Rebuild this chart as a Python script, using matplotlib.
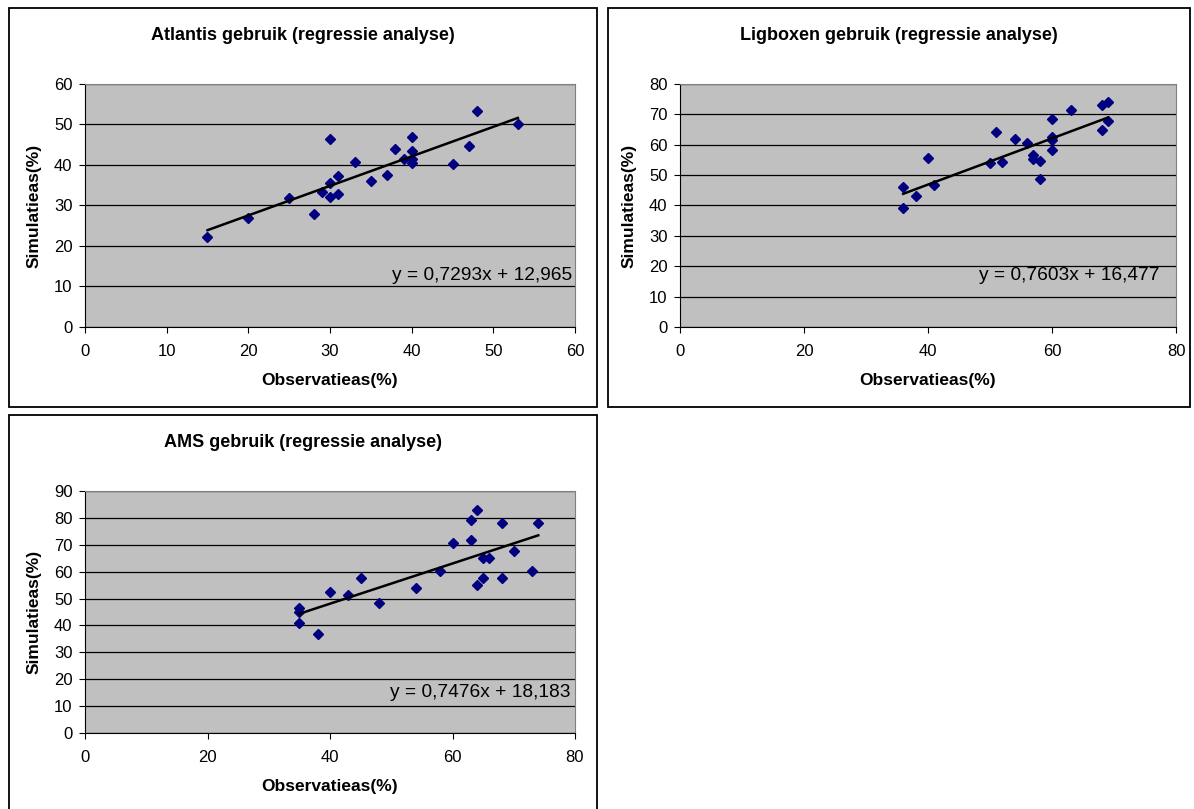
import matplotlib
matplotlib.use("Agg")
import matplotlib.pyplot as plt
from matplotlib.patches import Rectangle
import numpy as np

plt.rcParams['font.family'] = ['Liberation Sans', 'DejaVu Sans']

# Atlantis
atl_obs = [15, 20, 25, 28, 29, 30, 30, 30, 31, 31, 33, 35, 37, 38, 39, 40, 40, 40, 40, 45, 47, 48, 53]
atl_sim = [22.3, 27.0, 31.8, 27.9, 33.4, 46.4, 35.5, 32.0, 37.3, 32.8, 40.8, 36.1, 37.5, 44.0, 41.4,
           47.0, 43.5, 41.6, 40.4, 40.2, 44.7, 53.4, 50.0]
atl_fit = (0.7293, 12.965)

# Ligboxen
lig_obs = [36, 36, 38, 40, 41, 50, 51, 52, 54, 56, 57, 57, 58, 58, 60, 60, 60, 60, 63, 68, 68, 69, 69]
lig_sim = [46.2, 39.1, 43.0, 55.6, 46.9, 53.9, 64.2, 54.4, 61.9, 60.6, 56.6, 55.2, 54.7, 48.8,
           68.5, 62.7, 61.5, 58.2, 71.3, 73.1, 64.9, 74.0, 67.7]
lig_fit = (0.7603, 16.477)

# AMS
ams_obs = [35, 35, 35, 38, 40, 43, 45, 48, 54, 58, 60, 63, 63, 64, 64, 65, 65, 66, 68, 68, 70, 73, 74]
ams_sim = [46.5, 45.0, 41.0, 37.0, 52.4, 51.3, 57.7, 48.4, 53.8, 60.2, 70.5, 79.3, 71.7, 83.0,
           55.0, 57.6, 65.2, 65.2, 78.0, 57.6, 67.8, 60.2, 78.0]
ams_fit = (0.7476, 18.183)

W, H = 1194, 809
fig = plt.figure(figsize=(W / 100, H / 100), dpi=100)


def px_rect(x0, y0, x1, y1):
    return [x0 / W, 1 - y1 / H, (x1 - x0) / W, (y1 - y0) / H]


def panel(box, area, obs, sim, fit, xmax, xstep, ymax, ystep, title, eq_pos):
    # chart frame
    bx0, by0, bx1, by1 = box
    fig.patches.append(Rectangle((bx0 / W, 1 - by1 / H), (bx1 - bx0) / W, (by1 - by0) / H,
                                 transform=fig.transFigure, fill=False, edgecolor='black',
                                 linewidth=1.3))
    ax = fig.add_axes(px_rect(*area))
    ax.set_facecolor('#c0c0c0')
    ax.set_xlim(0, xmax)
    ax.set_ylim(0, ymax)
    ax.set_xticks(np.arange(0, xmax + 1, xstep))
    ax.set_yticks(np.arange(0, ymax + 1, ystep))
    ax.yaxis.grid(True, color='black', linewidth=0.9)
    ax.set_axisbelow(True)
    for s in ['top', 'right']:
        ax.spines[s].set_color('#808080')
    for s in ['left', 'bottom']:
        ax.spines[s].set_color('black')
    ax.tick_params(direction='out', length=4, labelsize=12, width=0.8)
    ax.tick_params(axis='x', pad=8)
    ax.tick_params(axis='y', pad=5)

    ax.plot(obs, sim, linestyle='none', marker='D', markersize=5, color='#000080')
    xs = np.array([min(obs), max(obs)])
    ax.plot(xs, fit[0] * xs + fit[1], color='black', linewidth=1.8)
    ax.text(eq_pos[0], eq_pos[1], 'y = %s' % ('%.4fx + %.3f' % fit).replace('.', ','),
            ha='right', va='center', fontsize=13.8)

    ax.set_xlabel('Observatieas(%)', fontsize=12.5, fontweight='bold', labelpad=10)
    ax.set_ylabel('Simulatieas(%)', fontsize=12.5, fontweight='bold', labelpad=9)
    cx = (bx0 + bx1) / 2
    fig.text(cx / W, 1 - (by0 + 28) / H, title, ha='center', va='center',
             fontsize=13, fontweight='bold')
    return ax


panel((9, 8, 597, 407), (85, 84, 575, 327), atl_obs, atl_sim, atl_fit, 60, 10, 60, 10,
      'Atlantis gebruik (regressie analyse)', (59.7, 12.6))
panel((608, 8, 1190, 407), (680, 84, 1176, 327), lig_obs, lig_sim, lig_fit, 80, 20, 80, 10,
      'Ligboxen gebruik (regressie analyse)', (77.4, 16.8))
panel((9, 415, 597, 820), (85, 491, 575, 733), ams_obs, ams_sim, ams_fit, 80, 20, 90, 10,
      'AMS gebruik (regressie analyse)', (79.2, 15.2))

fig.savefig('out.png', dpi=100, facecolor='white')
